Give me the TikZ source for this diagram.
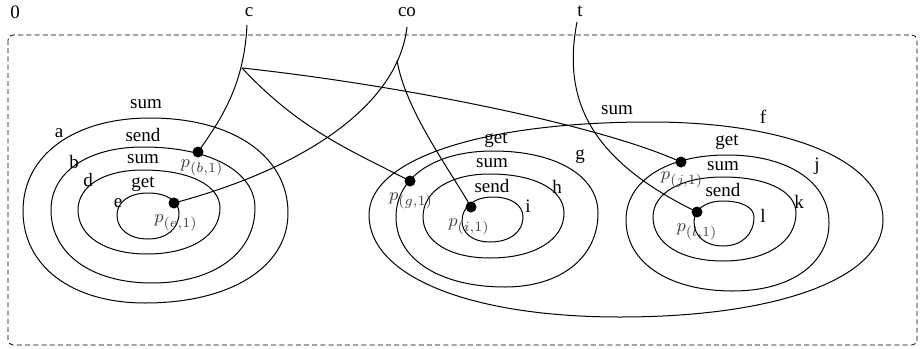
\documentclass[tikz,border=0pt]{standalone}
\usepackage{fontspec}
\setmainfont{Liberation Serif}
\tikzset{
  contour/.style={line width=0.5pt},
  conn/.style={line width=0.5pt},
  dot/.style={circle,fill=black,inner sep=0pt,minimum size=5.5pt},
  lbl/.style={inner sep=0pt,font=\fontsize{9.5}{11}\selectfont},
  plbl/.style={inner sep=0pt,font=\fontsize{9.5}{11}\selectfont,text=black!75},
  frame/.style={dash pattern=on 2.5pt off 1.6pt,line width=0.4pt,rounded corners=2.5pt},
}
\newcommand\kk{0.6}
% left(x,y) top(x,y) right(x,y) bottom(x,y)
\newcommand{\blobshape}[8]{%
  \draw[contour] (#1,#2)
    .. controls (#1,{#2-\kk*(#2-#4)}) and ({#3-\kk*(#3-#1)},#4) .. (#3,#4)
    .. controls ({#3+\kk*(#5-#3)},#4) and (#5,{#6-\kk*(#6-#4)}) .. (#5,#6)
    .. controls (#5,{#6+\kk*(#8-#6)}) and ({#7+\kk*(#5-#7)},#8) .. (#7,#8)
    .. controls ({#7-\kk*(#7-#1)},#8) and (#1,{#2+\kk*(#8-#2)}) .. cycle;}
\begin{document}
\begin{tikzpicture}[x=0.5pt,y=-0.5pt]
\useasboundingbox (0,0) rectangle (920,348);
% frame
\draw[frame] (8,35) rectangle (917,345);
% left group
\blobshape{23}{211}{150}{118}{288}{213}{145}{303}
\blobshape{51}{210}{143}{147}{255}{208}{152}{283}
\blobshape{78}{210}{143}{170}{220}{208}{147}{254}
\blobshape{117}{215}{148}{193}{179}{213}{148}{239}
% middle / right groups
\blobshape{369}{215}{650}{122}{883}{220}{620}{317}
\blobshape{396}{217}{493}{151}{598}{213}{505}{287}
\blobshape{423}{217}{490}{174}{564}{213}{490}{258}
\blobshape{462}{221}{493}{197}{523}{217}{490}{242}
\blobshape{626}{220}{727}{155}{829}{223}{733}{291}
\blobshape{653}{217}{723}{177}{796}{213}{723}{261}
\blobshape{694}{222}{723}{201}{754}{217}{723}{246}
% top names
\node[lbl] (n0) at (15,12) {0};
\node[lbl] (nc) at (249,12) {c};
\node[lbl] (nco) at (407,12) {co};
\node[lbl] (nt) at (580,11) {t};
% contour labels
\node[lbl] (la) at (59,133) {a};
\node[lbl] (ls1) at (146,104) {sum};
\node[lbl] (lb) at (74,162) {b};
\node[lbl] (ls2) at (143,135) {send};
\node[lbl] (ld) at (88,180) {d};
\node[lbl] (ls3) at (143,159) {sum};
\node[lbl] (le) at (118,203) {e};
\node[lbl] (ls4) at (143,184) {get};
\node[lbl] (lf) at (763,117) {f};
\node[lbl] (ls5) at (617,110) {sum};
\node[lbl] (lg) at (580,157) {g};
\node[lbl] (ls6) at (496,140) {get};
\node[lbl] (lh) at (557,187) {h};
\node[lbl] (ls7) at (492,163) {sum};
\node[lbl] (li) at (528,206) {i};
\node[lbl] (ls8) at (492,186) {send};
\node[lbl] (lj) at (817,166) {j};
\node[lbl] (ls9) at (727,142) {get};
\node[lbl] (lk) at (799,202) {k};
\node[lbl] (ls10) at (723,166) {sum};
\node[lbl] (ll) at (763,216) {l};
\node[lbl] (ls11) at (723,190) {send};
% points
\node[dot] (pb) at (198,152) {};
\node[dot] (pe) at (174,203) {};
\node[dot] (pg) at (410,181) {};
\node[dot] (pi) at (471,207) {};
\node[dot] (pj) at (681,162) {};
\node[dot] (pl) at (697,212) {};
\node[plbl] at (202,168) {$p_{(b,1)}$};
\node[plbl] at (176,223) {$p_{(e,1)}$};
\node[plbl] at (411,201) {$p_{(g,1)}$};
\node[plbl] at (469,227) {$p_{(i,1)}$};
\node[plbl] at (682,180) {$p_{(j,1)}$};
\node[plbl] at (697,232) {$p_{(l,1)}$};
% connector coordinates
\coordinate (cs) at (247,25);
\coordinate (cj) at (242,68);
\coordinate (cos) at (407,27);
\coordinate (coj) at (397,60);
\coordinate (ts) at (577,22);
% connectors
\draw[conn] (cs) .. controls (244,85) and (222,118) .. (pb.center);
\draw[conn] (cj) .. controls (300,130) and (350,150) .. (pg.center);
\draw[conn] (cj) .. controls (400,85) and (600,125) .. (pj.center);
\draw[conn] (cos) .. controls (398,105) and (305,168) .. (pe.center);
\draw[conn] (coj) .. controls (405,110) and (450,170) .. (pi.center);
\draw[conn] (ts) .. controls (562,100) and (590,160) .. (pl.center);
\end{tikzpicture}
\end{document}
